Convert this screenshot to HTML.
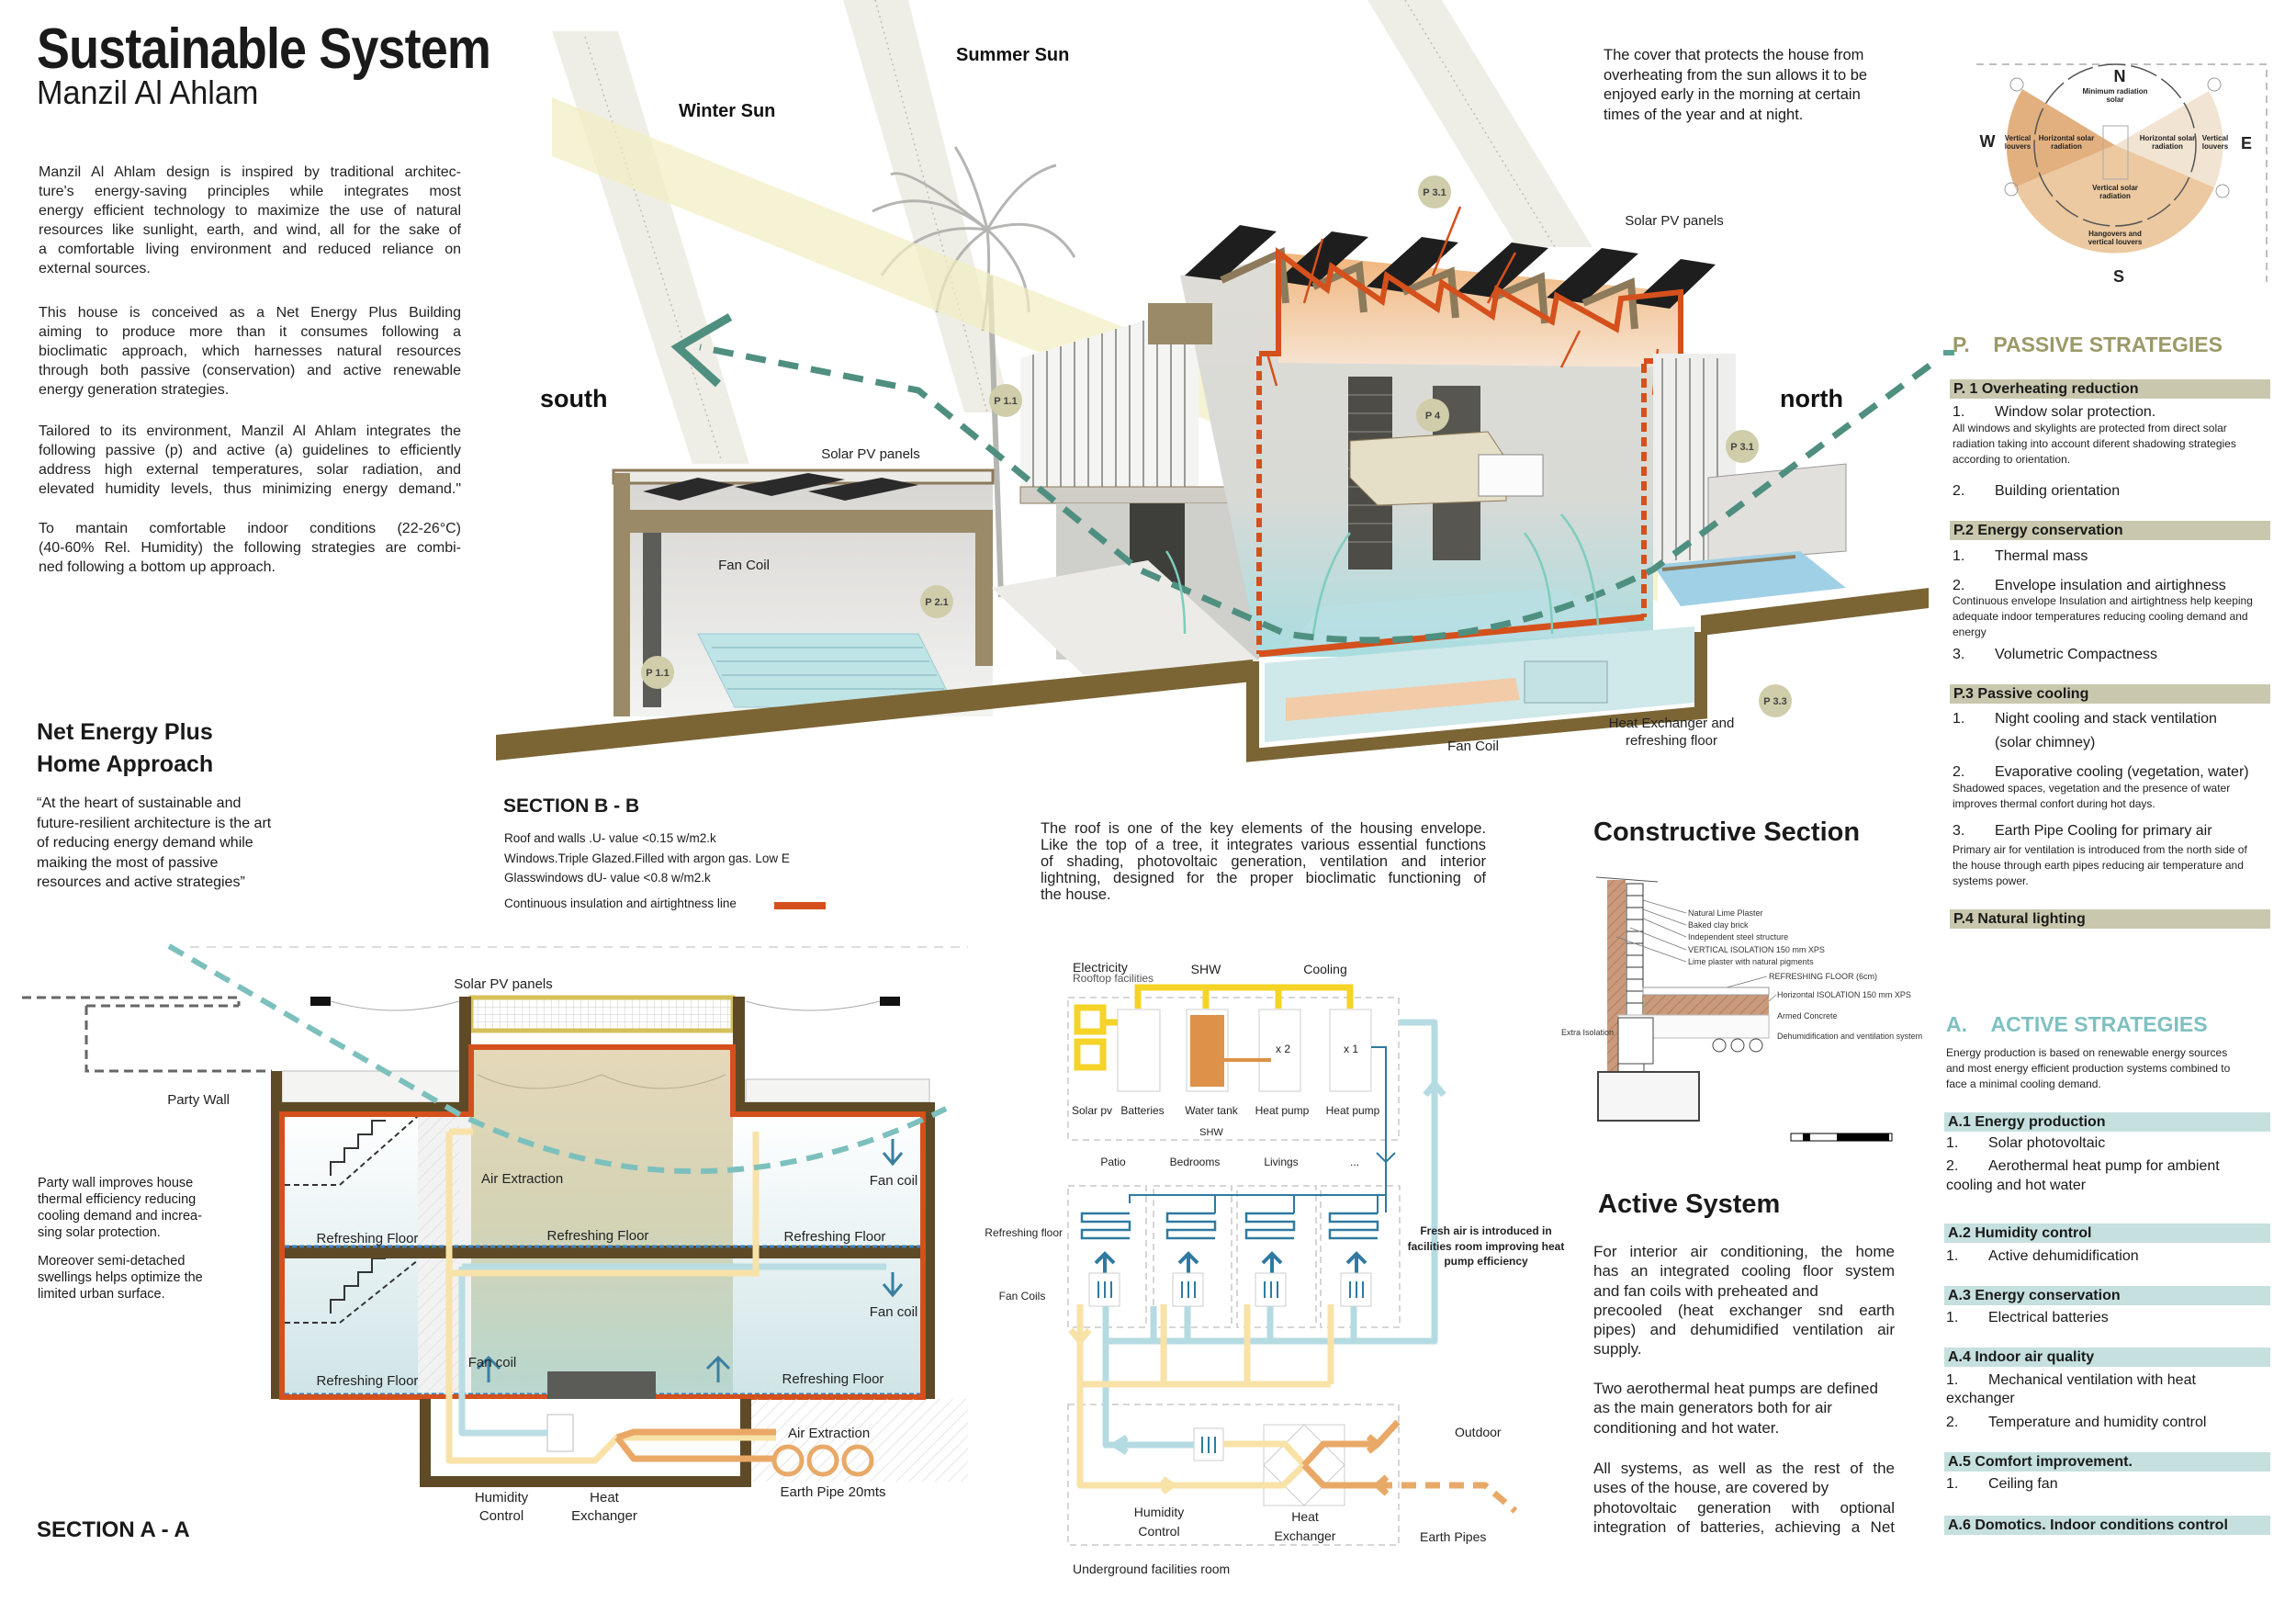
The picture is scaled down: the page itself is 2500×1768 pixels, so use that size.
<!DOCTYPE html>
<html><head><meta charset="utf-8">
<style>
*{margin:0;padding:0;box-sizing:border-box}
body{width:2500px;height:1768px;background:#fff;position:relative;overflow:hidden;font-family:"Liberation Sans",sans-serif;color:#1a1a1a}
.a{position:absolute;white-space:nowrap}
.p{position:absolute;font-size:16px;line-height:21px;color:#222}
.p div{white-space:nowrap;text-align:justify;text-align-last:justify}
.p div.l{text-align:left;text-align-last:left}
.n{font-family:"Liberation Sans Narrow","Liberation Sans",sans-serif}
.bar{position:absolute;left:2123px;width:349px;height:21px;font-weight:bold;font-size:16px;line-height:21px;padding-left:4px}
.pb{background:#c9c8ae}
.ab{background:#c5e0df}
.it{position:absolute;left:2126px;font-size:16px;line-height:20px;white-space:nowrap}
.it b{font-weight:normal;display:inline-block;width:46px}
.sm{position:absolute;left:2126px;font-size:12px;line-height:17px;width:330px;color:#222}
</style></head><body>

<svg class="a" style="left:0;top:0" width="2500" height="1768" viewBox="0 0 2500 1768" xmlns="http://www.w3.org/2000/svg">
<defs>
<linearGradient id="roofg" x1="0" y1="0" x2="0" y2="1"><stop offset="0" stop-color="#f0b57c"/><stop offset="1" stop-color="#f7e4d2"/></linearGradient>
<linearGradient id="inner" x1="0" y1="0" x2="0" y2="1"><stop offset="0" stop-color="#dedcd7"/><stop offset=".6" stop-color="#d8dad6"/><stop offset="1" stop-color="#a9dde0"/></linearGradient>
<linearGradient id="room" x1="0" y1="0" x2="0" y2="1"><stop offset="0" stop-color="#ffffff"/><stop offset="1" stop-color="#cfe4e7"/></linearGradient>
<linearGradient id="atr" x1="0" y1="0" x2="0" y2="1"><stop offset="0" stop-color="#e5d8b9"/><stop offset=".5" stop-color="#d4d3b5"/><stop offset="1" stop-color="#b7d7cf"/></linearGradient>
<linearGradient id="pav" x1="0" y1="0" x2="0" y2="1"><stop offset="0" stop-color="#d6d5d2"/><stop offset="1" stop-color="#f3f3f1"/></linearGradient>
<pattern id="hatch" width="10" height="10" patternUnits="userSpaceOnUse" patternTransform="rotate(45)"><line x1="0" y1="0" x2="0" y2="10" stroke="#ddd" stroke-width="1.5"/></pattern>
<pattern id="grid" width="8" height="8" patternUnits="userSpaceOnUse"><path d="M8 0H0V8" fill="none" stroke="#ccc" stroke-width="1"/></pattern>
<pattern id="brick" width="8" height="8" patternUnits="userSpaceOnUse" patternTransform="rotate(45)"><rect width="8" height="8" fill="#c99a7c"/><line x1="0" y1="0" x2="0" y2="8" stroke="#b57d5d" stroke-width="2"/></pattern>
</defs>

<!-- 3D SECTION B-B -->
<polygon points="601,34 673,34 816,505 754,505" fill="#efeee6"/>
<polygon points="918,0 989,0 1101,449 1050,449" fill="#efeee6"/>
<polygon points="1489,0 1570,0 1734,269 1652,269" fill="#efeee6"/>
<line x1="637" y1="40" x2="785" y2="500" stroke="#bbb" stroke-width="1.5" stroke-dasharray="2 4"/>
<line x1="953" y1="0" x2="1075" y2="449" stroke="#bbb" stroke-width="1.5" stroke-dasharray="2 4"/>
<line x1="1530" y1="0" x2="1693" y2="269" stroke="#bbb" stroke-width="1.5" stroke-dasharray="2 4"/>
<g stroke="#a9a9a6" fill="none" stroke-width="3" opacity=".85">
<path d="M1078,300 L1090,650" stroke-width="6"/>
<path d="M1075,250 Q1010,200 950,230"/><path d="M1075,250 Q1000,240 960,300"/><path d="M1075,250 Q1030,280 1020,340"/>
<path d="M1075,250 Q1060,190 1040,160"/><path d="M1075,250 Q1110,190 1150,180"/><path d="M1075,250 Q1140,230 1170,280"/>
<path d="M1075,250 Q1120,290 1120,340"/><path d="M1075,250 Q1080,300 1070,360"/><path d="M1075,250 Q990,180 970,190"/>
</g>
<polygon points="601,106 1805,590 1805,655 601,170" fill="#f2eec2" opacity=".7"/>
<rect x="668" y="515" width="413" height="265" fill="url(#pav)"/>
<rect x="668" y="512" width="413" height="14" fill="#ecebe7" stroke="#8c7a5b" stroke-width="3"/>
<polygon points="700,535 760,520 800,528 740,545" fill="#2a2a2a"/>
<polygon points="800,530 880,515 920,522 840,540" fill="#2a2a2a"/>
<polygon points="880,535 960,520 1000,528 920,545" fill="#2a2a2a"/>
<rect x="668" y="555" width="413" height="25" fill="#9b8a68"/>
<rect x="668" y="515" width="18" height="265" fill="#9b8a68"/>
<rect x="1062" y="555" width="19" height="170" fill="#9b8a68"/>
<polygon points="760,690 1000,690 1040,770 800,770" fill="#bfe4e6" stroke="#9fcad0"/>
<g stroke="#9fcad0" stroke-width="2"><line x1="775" y1="705" x2="1005" y2="705"/><line x1="780" y1="720" x2="1012" y2="720"/><line x1="786" y1="735" x2="1020" y2="735"/><line x1="792" y1="750" x2="1028" y2="750"/></g>
<rect x="700" y="580" width="20" height="190" fill="#5c5c58"/>
<polygon points="1111,390 1305,331 1305,544 1111,544" fill="#f4f4f2"/>
<g stroke="#9a9a96" stroke-width="2">
<line x1="1125" y1="386" x2="1125" y2="540"/><line x1="1140" y1="382" x2="1140" y2="540"/><line x1="1155" y1="377" x2="1155" y2="540"/><line x1="1170" y1="372" x2="1170" y2="540"/><line x1="1185" y1="368" x2="1185" y2="540"/><line x1="1200" y1="363" x2="1200" y2="540"/><line x1="1215" y1="358" x2="1215" y2="540"/><line x1="1230" y1="354" x2="1230" y2="540"/><line x1="1245" y1="349" x2="1245" y2="540"/><line x1="1260" y1="345" x2="1260" y2="540"/><line x1="1275" y1="340" x2="1275" y2="540"/><line x1="1290" y1="336" x2="1290" y2="540"/></g>
<rect x="1111" y="530" width="260" height="18" fill="#cfcdc6" stroke="#8c7a5b"/>
<rect x="1150" y="548" width="221" height="170" fill="#cfcfcb"/>
<rect x="1230" y="548" width="60" height="170" fill="#3e3e3a"/>
<polygon points="1080,640 1250,610 1371,720 1180,735" fill="#ecebe7"/>
<polygon points="1285,300 1371,285 1800,320 1800,715 1371,715" fill="url(#inner)"/>
<polygon points="1392,275 1830,318 1830,400 1392,395" fill="url(#roofg)"/>
<rect x="1468" y="410" width="48" height="210" fill="#4d4c46"/>
<rect x="1560" y="420" width="52" height="190" fill="#575650"/>
<g stroke="#7b7a72" stroke-width="1.5"><line x1="1468" y1="430" x2="1516" y2="430"/><line x1="1468" y1="450" x2="1516" y2="450"/><line x1="1468" y1="470" x2="1516" y2="470"/><line x1="1468" y1="490" x2="1516" y2="490"/><line x1="1468" y1="510" x2="1516" y2="510"/><line x1="1468" y1="530" x2="1516" y2="530"/><line x1="1468" y1="550" x2="1516" y2="550"/><line x1="1468" y1="570" x2="1516" y2="570"/><line x1="1468" y1="590" x2="1516" y2="590"/></g>
<polygon points="1470,480 1620,470 1640,500 1640,545 1500,550 1470,520" fill="#e4dfc6" stroke="#8c7a5b"/>
<rect x="1610" y="495" width="70" height="45" fill="#fbfbfb" stroke="#888"/>
<polygon points="1440,660 1700,640 1780,690 1400,705" fill="#b9e0e3" opacity=".8"/>
<rect x="1250" y="330" width="70" height="45" fill="#9a8a68"/>
<g fill="#1e1e1e">
<polygon points="1290,300 1350,245 1390,252 1330,305"/>
<polygon points="1390,306 1450,252 1490,258 1430,312"/>
<polygon points="1488,312 1548,258 1588,264 1528,318"/>
<polygon points="1586,318 1646,264 1686,270 1626,324"/>
<polygon points="1684,324 1744,270 1784,276 1724,330"/>
<polygon points="1778,330 1830,282 1868,288 1818,336"/>
</g>
<g stroke="#8c7a5b" stroke-width="8" fill="none">
<path d="M1330,305 L1395,275 L1400,330"/><path d="M1430,312 L1480,290 L1485,340"/><path d="M1528,318 L1580,296 L1585,346"/><path d="M1626,324 L1678,302 L1682,352"/><path d="M1724,330 L1776,308 L1780,358"/>
</g>
<g stroke="#d4501c" fill="none">
<path d="M1371,385 L1392,385 L1392,275 L1445,315 L1450,290 L1505,328 L1510,300 L1565,336 L1570,308 L1625,344 L1630,315 L1690,350 L1695,322 L1760,358 L1765,325 L1830,318 L1830,393 L1790,393" stroke-width="6"/>
<line x1="1371" y1="388" x2="1371" y2="712" stroke-width="6" stroke-dasharray="10 6"/>
<line x1="1790" y1="396" x2="1790" y2="672" stroke-width="6" stroke-dasharray="10 6"/>
<line x1="1371" y1="712" x2="1790" y2="672" stroke-width="7"/>
<path d="M1420,330 L1440,260" stroke-width="2.5"/><path d="M1560,300 L1590,225" stroke-width="2.5"/><path d="M1620,330 L1650,275" stroke-width="2.5"/>
<path d="M1700,400 L1720,360" stroke-width="2.5"/><path d="M1800,430 L1805,380" stroke-width="2.5"/><path d="M1390,420 L1380,385" stroke-width="2.5"/>
</g>
<rect x="1800" y="385" width="90" height="230" fill="#eeeeec"/>
<g stroke="#9a9a96" stroke-width="2"><line x1="1810" y1="390" x2="1810" y2="610"/><line x1="1825" y1="390" x2="1825" y2="610"/><line x1="1840" y1="390" x2="1840" y2="610"/><line x1="1855" y1="390" x2="1855" y2="610"/><line x1="1870" y1="390" x2="1870" y2="610"/></g>
<polygon points="1860,520 2010,505 2010,600 1860,612" fill="#e1e0dd" stroke="#999"/>
<polygon points="1800,615 1960,600 2010,640 1830,660" fill="#9fd0e6"/>
<line x1="1810" y1="620" x2="1955" y2="606" stroke="#8c7a5b" stroke-width="4"/>
<polygon points="540,800 1364,718 1364,742 540,828" fill="#7b6535"/>
<polygon points="1852,670 2100,640 2100,662 1852,692" fill="#7b6535"/>
<polygon points="1377,722 1845,682 1845,765 1377,808" fill="#cfe8ea"/>
<polygon points="1400,760 1650,738 1655,762 1400,785" fill="#f2cba8"/>
<rect x="1660" y="720" width="90" height="45" fill="#c4e1e4" stroke="#8aa"/>
<path d="M1364,720 L1364,822 L1852,776 L1852,688" fill="none" stroke="#7b6535" stroke-width="14"/>
<path d="M2101,398 L1800,620 Q1600,720 1400,690 L1240,620 L1000,425 L762,378" fill="none" stroke="#4f8f80" stroke-width="7" stroke-dasharray="22 14"/>
<polyline points="795,345 738,378 782,418" fill="none" stroke="#4f8f80" stroke-width="9"/>
<g stroke="#7fcdbd" stroke-width="2.5" fill="none"><path d="M1740,680 Q1735,600 1700,560"/><path d="M1690,690 Q1690,620 1660,580"/><path d="M1430,690 Q1440,620 1470,580"/><path d="M1290,690 Q1290,630 1270,600"/></g>
<g fill="#cfcdaa"><circle cx="1562" cy="209" r="18"/><circle cx="1095" cy="436" r="18"/><circle cx="1560" cy="452" r="18"/><circle cx="1897" cy="486" r="18"/><circle cx="1020" cy="655" r="18"/><circle cx="716" cy="732" r="18"/><circle cx="1933" cy="763" r="18"/></g>
<g font-family="Liberation Sans Narrow,Liberation Sans,sans-serif" font-size="11" font-weight="bold" fill="#444" text-anchor="middle">
<text x="1562" y="213">P 3.1</text><text x="1095" y="440">P 1.1</text><text x="1560" y="456">P 4</text><text x="1897" y="490">P 3.1</text><text x="1020" y="659">P 2.1</text><text x="716" y="736">P 1.1</text><text x="1933" y="767">P 3.3</text>
</g>
<g font-family="Liberation Sans Narrow,Liberation Sans,sans-serif" font-size="15" fill="#222">
<text x="1823" y="245" text-anchor="middle">Solar PV panels</text>
<text x="948" y="499" text-anchor="middle">Solar PV panels</text>
<text x="810" y="620" text-anchor="middle">Fan Coil</text>
<text x="1604" y="817" text-anchor="middle">Fan Coil</text>
<text x="1820" y="792" text-anchor="middle">Heat Exchanger and</text>
<text x="1820" y="811" text-anchor="middle">refreshing floor</text>
</g>
<g font-family="Liberation Sans Narrow,Liberation Sans,sans-serif" font-weight="bold" fill="#111">
<text x="1041" y="66" font-size="20">Summer Sun</text>
<text x="739" y="127" font-size="20">Winter Sun</text>
<text x="588" y="443" font-size="27">south</text>
<text x="1938" y="443" font-size="27">north</text>
</g>

<!-- COMPASS -->
<path d="M2152,70 L2468,70 L2468,307" fill="none" stroke="#aaa" stroke-width="1.5" stroke-dasharray="8 6"/>
<path d="M2303,158 L2202,97 A118,118 0 0 0 2194,204 Z" fill="#e2b07f"/>
<path d="M2303,158 L2194,204 A118,118 0 0 0 2411,204 Z" fill="#ecc9a0"/>
<path d="M2303,158 L2411,204 A118,118 0 0 0 2405,99 Z" fill="#f2e4d2"/>
<circle cx="2303" cy="158" r="88" fill="none" stroke="#555" stroke-width="1.5" stroke-dasharray="30 6"/>
<g fill="none" stroke="#999"><circle cx="2196" cy="92" r="7"/><circle cx="2411" cy="92" r="7"/><circle cx="2190" cy="206" r="7"/><circle cx="2420" cy="208" r="7"/></g>
<rect x="2290" y="137" width="27" height="58" fill="none" stroke="#aaa"/>
<g font-family="Liberation Sans,sans-serif" fill="#222" text-anchor="middle" font-weight="bold">
<text x="2308" y="89" font-size="18">N</text><text x="2307" y="307" font-size="18">S</text><text x="2164" y="160" font-size="18">W</text><text x="2446" y="162" font-size="18">E</text>
<g font-size="8"><text x="2303" y="102">Minimum radiation</text><text x="2303" y="111">solar</text>
<text x="2197" y="153">Vertical</text><text x="2197" y="162">louvers</text>
<text x="2250" y="153">Horizontal solar</text><text x="2250" y="162">radiation</text>
<text x="2360" y="153">Horizontal solar</text><text x="2360" y="162">radiation</text>
<text x="2412" y="153">Vertical</text><text x="2412" y="162">louvers</text>
<text x="2303" y="207">Vertical solar</text><text x="2303" y="216">radiation</text>
<text x="2303" y="257">Hangovers and</text><text x="2303" y="266">vertical louvers</text></g>
</g>
<rect x="2116" y="381" width="12" height="6" fill="#5aa095"/>

<!-- SECTION A-A -->
<line x1="207" y1="1031" x2="1054" y2="1031" stroke="#ddd" stroke-width="2" stroke-dasharray="10 8"/>
<path d="M24,1086 L260,1086 L260,1095 M94,1095 L260,1095 M94,1095 L94,1166 L296,1166" fill="none" stroke="#666" stroke-width="3" stroke-dasharray="10 6"/>
<text x="250" y="1202" font-family="Liberation Sans Narrow,Liberation Sans,sans-serif" font-size="15" text-anchor="end" fill="#222">Party Wall</text>
<rect x="307" y="1166" width="206" height="34" fill="#f4f4f2" stroke="#bbb"/>
<rect x="812" y="1175" width="200" height="25" fill="#f4f4f2" stroke="#bbb"/>
<rect x="307" y="1213" width="698" height="308" fill="url(#room)"/>
<rect x="513" y="1140" width="285" height="380" fill="url(#atr)"/>
<rect x="455" y="1216" width="58" height="300" fill="#f2f2f2"/>
<rect x="455" y="1216" width="45" height="300" fill="url(#hatch)"/>
<path d="M310,1290 L370,1290 L455,1215" fill="none" stroke="#333" stroke-width="2" stroke-dasharray="6 4"/>
<path d="M310,1440 L370,1440 L455,1372" fill="none" stroke="#333" stroke-width="2" stroke-dasharray="6 4"/>
<path d="M360,1280 L360,1265 L375,1265 L375,1250 L390,1250 L390,1235 L405,1235 L405,1220 L420,1220" fill="none" stroke="#333" stroke-width="2"/>
<path d="M360,1430 L360,1415 L375,1415 L375,1400 L390,1400 L390,1385 L405,1385 L405,1370 L420,1370" fill="none" stroke="#333" stroke-width="2"/>
<rect x="513" y="1086" width="285" height="36" fill="url(#grid)" stroke="#d6c15a" stroke-width="5"/>
<rect x="500" y="1085" width="13" height="128" fill="#5e4a26"/>
<rect x="798" y="1085" width="13" height="128" fill="#5e4a26"/>
<rect x="338" y="1085" width="22" height="10" fill="#111"/><rect x="958" y="1085" width="22" height="10" fill="#111"/>
<path d="M360,1090 Q430,1110 500,1090 M812,1090 Q880,1110 958,1090" fill="none" stroke="#aaa"/>
<rect x="307" y="1200" width="206" height="13" fill="#5e4a26"/>
<rect x="798" y="1200" width="220" height="13" fill="#5e4a26"/>
<rect x="295" y="1166" width="12" height="357" fill="#5e4a26"/>
<rect x="1007" y="1200" width="11" height="323" fill="#5e4a26"/>
<rect x="307" y="1356" width="700" height="14" fill="#5e4a26"/>
<line x1="310" y1="1357" x2="1005" y2="1357" stroke="#3a7fc0" stroke-width="3" stroke-dasharray="5 3"/>
<line x1="310" y1="1518" x2="1005" y2="1518" stroke="#3a7fc0" stroke-width="3" stroke-dasharray="5 3"/>
<path d="M307,1521 L307,1213 L513,1213 L513,1140 L798,1140 L798,1213 L1005,1213 L1005,1521 Z" fill="none" stroke="#d4501c" stroke-width="6"/>
<path d="M520,1170 Q580,1200 655,1170 Q720,1200 790,1170" fill="none" stroke="#b9ad92"/>
<rect x="596" y="1493" width="118" height="30" fill="#5b5b58"/>
<rect x="812" y="1523" width="242" height="90" fill="url(#hatch)"/>
<rect x="463" y="1523" width="343" height="84" fill="#fff"/>
<path d="M463,1523 L463,1613 L812,1613 L812,1523" fill="none" stroke="#5e4a26" stroke-width="12"/>
<rect x="596" y="1540" width="28" height="40" fill="#fff" stroke="#bbb"/>
<g fill="none" stroke-linejoin="round">
<path d="M503,1379 L965,1379 M503,1379 L503,1560 L596,1560" stroke="#b9dde3" stroke-width="7"/>
<path d="M489,1232 L489,1590 L648,1590 L672,1565 L845,1565 M489,1386 L827,1386 M823,1232 L823,1390 M489,1232 L515,1232" stroke="#f8e2a8" stroke-width="7"/>
<path d="M672,1565 L690,1559 L845,1559 M672,1565 L690,1588 L845,1588" stroke="#eaa867" stroke-width="7"/>
</g>
<g fill="none" stroke="#e8a968" stroke-width="5"><circle cx="858" cy="1590" r="15"/><circle cx="896" cy="1590" r="15"/><circle cx="934" cy="1590" r="15"/></g>
<g stroke="#3a7fa0" stroke-width="3" fill="none"><path d="M962,1255 L972,1267 L982,1255 M972,1240 L972,1266"/><path d="M962,1398 L972,1410 L982,1398 M972,1385 L972,1410"/><path d="M520,1490 L532,1478 L544,1490 M532,1478 L532,1505"/><path d="M770,1490 L782,1478 L794,1490 M782,1478 L782,1505"/></g>
<path d="M184,1030 L500,1213 Q760,1340 1030,1207" fill="none" stroke="#7cc0bd" stroke-width="6" stroke-dasharray="18 11"/>
<g font-family="Liberation Sans Narrow,Liberation Sans,sans-serif" font-size="15" fill="#222">
<text x="548" y="1076" text-anchor="middle">Solar PV panels</text>
<text x="524" y="1288">Air Extraction</text>
<text x="400" y="1353" text-anchor="middle">Refreshing Floor</text>
<text x="651" y="1350" text-anchor="middle">Refreshing Floor</text>
<text x="909" y="1351" text-anchor="middle">Refreshing Floor</text>
<text x="400" y="1508" text-anchor="middle">Refreshing Floor</text>
<text x="907" y="1506" text-anchor="middle">Refreshing Floor</text>
<text x="973" y="1290" text-anchor="middle">Fan coil</text>
<text x="973" y="1433" text-anchor="middle">Fan coil</text>
<text x="536" y="1488" text-anchor="middle">Fan coil</text>
<text x="858" y="1565">Air Extraction</text>
<text x="907" y="1629" text-anchor="middle">Earth Pipe 20mts</text>
<text x="546" y="1635" text-anchor="middle">Humidity</text><text x="546" y="1655" text-anchor="middle">Control</text>
<text x="658" y="1635" text-anchor="middle">Heat</text><text x="658" y="1655" text-anchor="middle">Exchanger</text>
</g>

<!-- SYSTEM DIAGRAM -->
<g fill="none" stroke="#c8c8c8" stroke-width="1.5" stroke-dasharray="7 5">
<rect x="1163" y="1086" width="360" height="155"/>
<rect x="1163" y="1291" width="85" height="154"/><rect x="1256" y="1291" width="85" height="154"/><rect x="1347" y="1291" width="86" height="154"/><rect x="1438" y="1291" width="86" height="154"/>
<rect x="1163" y="1529" width="360" height="153"/>
</g>
<path d="M1239,1098 L1239,1075 L1470,1075 L1470,1098 M1313,1075 L1313,1098 M1392,1075 L1392,1098" fill="none" stroke="#f5d327" stroke-width="7"/>
<rect x="1173" y="1097" width="28" height="26" fill="none" stroke="#f5d327" stroke-width="7"/>
<rect x="1173" y="1134" width="28" height="28" fill="none" stroke="#f5d327" stroke-width="7"/>
<line x1="1201" y1="1113" x2="1217" y2="1113" stroke="#f5d327" stroke-width="7"/>
<g fill="#fff" stroke="#ccc"><rect x="1217" y="1099" width="46" height="89"/><rect x="1292" y="1099" width="45" height="89"/><rect x="1371" y="1099" width="45" height="89"/><rect x="1448" y="1099" width="45" height="89"/></g>
<rect x="1296" y="1105" width="37" height="78" fill="#dd9149"/>
<line x1="1333" y1="1154" x2="1384" y2="1154" stroke="#dd9149" stroke-width="4"/>
<path d="M1493,1140 L1509,1140 L1509,1320 M1499,1255 L1509,1265 L1519,1255 M1230,1310 L1230,1301 L1509,1301 M1323,1301 L1323,1321 M1409,1301 L1409,1321 M1500,1301 L1500,1321" fill="none" stroke="#2f7aa0" stroke-width="2"/>
<g fill="none" stroke="#2f7aa0" stroke-width="2.5">
<path d="M1230,1321 L1178,1321 L1178,1330 L1230,1330 L1230,1339 L1178,1339 L1178,1348 L1230,1348"/>
<path d="M1323,1321 L1271,1321 L1271,1330 L1323,1330 L1323,1339 L1271,1339 L1271,1348 L1323,1348"/>
<path d="M1409,1321 L1357,1321 L1357,1330 L1409,1330 L1409,1339 L1357,1339 L1357,1348 L1409,1348"/>
<path d="M1500,1321 L1448,1321 L1448,1330 L1500,1330 L1500,1339 L1448,1339 L1448,1348 L1500,1348"/>
</g>
<g fill="none" stroke="#2f7aa0" stroke-width="4">
<path d="M1193,1375 L1203,1365 L1213,1375 M1203,1366 L1203,1386"/><path d="M1284,1375 L1294,1365 L1304,1375 M1294,1366 L1294,1386"/><path d="M1375,1375 L1385,1365 L1395,1375 M1385,1366 L1385,1386"/><path d="M1467,1375 L1477,1365 L1487,1375 M1477,1366 L1477,1386"/>
</g>
<g fill="#fff" stroke="#ccc"><rect x="1186" y="1386" width="33" height="36"/><rect x="1277" y="1386" width="33" height="36"/><rect x="1367" y="1386" width="33" height="36"/><rect x="1460" y="1386" width="33" height="36"/><rect x="1300" y="1555" width="32" height="35"/></g>
<g stroke="#2f7aa0" stroke-width="2"><path d="M1196,1395 v18 M1203,1395 v18 M1210,1395 v18 M1287,1395 v18 M1294,1395 v18 M1301,1395 v18 M1377,1395 v18 M1384,1395 v18 M1391,1395 v18 M1470,1395 v18 M1477,1395 v18 M1484,1395 v18 M1309,1564 v18 M1316,1564 v18 M1323,1564 v18"/></g>
<path d="M1376,1551 L1464,1551 L1464,1639 L1376,1639 Z M1420,1551 L1464,1595 L1420,1639 L1376,1595 Z" fill="#fff" stroke="#ccc"/>
<g fill="none" stroke-linejoin="round">
<path d="M1204,1422 L1204,1573 L1300,1573 M1227,1565 L1214,1573 L1227,1581 M1256,1422 L1256,1460 M1293,1422 L1293,1460 M1383,1422 L1383,1460 M1474,1422 L1474,1460 M1204,1460 L1562,1460 L1562,1113 L1524,1113 M1552,1192 L1562,1180 L1572,1192" stroke="#b5dbe2" stroke-width="7"/>
<path d="M1176,1420 L1176,1617 L1397,1617 L1420,1595 M1332,1572 L1399,1572 L1440,1617 M1266,1610 L1276,1617 L1266,1624 M1176,1507 L1449,1507 M1267,1420 L1267,1507 M1358,1420 L1358,1507 M1449,1420 L1449,1507 M1166,1448 L1176,1460 L1186,1448" stroke="#f8e2a8" stroke-width="7"/>
<path d="M1420,1595 L1441,1572 L1500,1572 L1522,1548 M1490,1564 L1500,1572 L1490,1580" stroke="#e8a968" stroke-width="7"/>
<path d="M1420,1595 L1441,1617 L1500,1617" stroke="#e8a968" stroke-width="7"/>
<path d="M1500,1617 L1617,1617 L1650,1645" stroke="#e8a968" stroke-width="7" stroke-dasharray="16 10"/>
<path d="M1510,1608 L1500,1617 L1510,1626" stroke="#e8a968" stroke-width="7" fill="none"/>
</g>
<g font-family="Liberation Sans,sans-serif" font-size="13" fill="#222">
<text x="1168" y="1058" font-size="14">Electricity</text>
<text x="1168" y="1069" font-size="12" fill="#555">Rooftop facilities</text>
<text x="1313" y="1060" text-anchor="middle" font-size="14">SHW</text>
<text x="1443" y="1060" text-anchor="middle" font-size="14">Cooling</text>
<text x="1189" y="1213" text-anchor="middle" font-size="12">Solar pv</text>
<text x="1244" y="1213" text-anchor="middle" font-size="12">Batteries</text>
<text x="1319" y="1213" text-anchor="middle" font-size="12">Water tank</text>
<text x="1396" y="1213" text-anchor="middle" font-size="12">Heat pump</text>
<text x="1473" y="1213" text-anchor="middle" font-size="12">Heat pump</text>
<text x="1319" y="1236" text-anchor="middle" font-size="11">SHW</text>
<text x="1397" y="1146" text-anchor="middle" font-size="12">x 2</text>
<text x="1471" y="1146" text-anchor="middle" font-size="12">x 1</text>
<text x="1212" y="1269" text-anchor="middle" font-size="12">Patio</text>
<text x="1301" y="1269" text-anchor="middle" font-size="12">Bedrooms</text>
<text x="1395" y="1269" text-anchor="middle" font-size="12">Livings</text>
<text x="1475" y="1269" text-anchor="middle" font-size="12">...</text>
<text x="1157" y="1346" text-anchor="end" font-size="12">Refreshing floor</text>
<text x="1113" y="1415" text-anchor="middle" font-size="12">Fan Coils</text>
<text x="1584" y="1564" font-size="14">Outdoor</text>
<text x="1546" y="1678" font-size="14">Earth Pipes</text>
<text x="1262" y="1651" text-anchor="middle" font-size="14">Humidity</text><text x="1262" y="1672" text-anchor="middle" font-size="14">Control</text>
<text x="1421" y="1656" text-anchor="middle" font-size="14">Heat</text><text x="1421" y="1677" text-anchor="middle" font-size="14">Exchanger</text>
<text x="1168" y="1713" font-size="14">Underground facilities room</text>
<g font-weight="bold" font-size="12" text-anchor="middle"><text x="1618" y="1344">Fresh air is introduced in</text><text x="1618" y="1361">facilities room improving heat</text><text x="1618" y="1377">pump efficiency</text></g>
</g>

<!-- CONSTRUCTIVE SECTION -->
<line x1="1738" y1="955" x2="1805" y2="960" stroke="#555"/>
<rect x="1750" y="958" width="20" height="210" fill="url(#brick)"/>
<rect x="1771" y="962" width="18" height="185" fill="#fff" stroke="#333"/>
<g stroke="#333"><path d="M1771,975h18M1771,988h18M1771,1001h18M1771,1014h18M1771,1027h18M1771,1040h18M1771,1053h18M1771,1066h18M1771,1079h18M1771,1092h18M1771,1105h18M1771,1118h18M1771,1131h18"/></g>
<rect x="1789" y="1083" width="137" height="22" fill="url(#brick)"/>
<rect x="1789" y="1075" width="137" height="8" fill="#fff" stroke="#999"/>
<rect x="1762" y="1105" width="164" height="25" fill="#fafafa" stroke="#bbb"/>
<rect x="1762" y="1108" width="38" height="50" fill="#fff" stroke="#444"/>
<rect x="1762" y="1158" width="28" height="12" fill="#fff" stroke="#444"/>
<g fill="none" stroke="#444"><circle cx="1872" cy="1138" r="7"/><circle cx="1892" cy="1138" r="7"/><circle cx="1912" cy="1138" r="7"/></g>
<rect x="1740" y="1167" width="110" height="53" fill="#f6f6f6" stroke="#444" stroke-width="2"/>
<rect x="1950" y="1234" width="110" height="8" fill="#fff" stroke="#000"/>
<rect x="1963" y="1234" width="8" height="8" fill="#000"/><rect x="2000" y="1234" width="57" height="8" fill="#000"/>
<g font-family="Liberation Sans Narrow,Liberation Sans,sans-serif" font-size="9" fill="#333">
<text x="1838" y="997">Natural Lime Plaster</text><text x="1838" y="1010">Baked clay brick</text><text x="1838" y="1023">Independent steel structure</text><text x="1838" y="1037">VERTICAL ISOLATION 150 mm XPS</text><text x="1838" y="1050">Lime plaster with natural pigments</text>
<text x="1926" y="1066">REFRESHING FLOOR (6cm)</text><text x="1935" y="1086">Horizontal ISOLATION 150 mm XPS</text><text x="1935" y="1109">Armed Concrete</text><text x="1935" y="1131">Dehumidification and ventilation system</text>
<text x="1700" y="1127">Extra Isolation</text>
</g>
<g stroke="#777" stroke-width=".8"><path d="M1789,980 L1836,994 M1789,990 L1836,1007 M1789,1000 L1836,1020 M1775,1010 L1836,1034 M1760,1020 L1836,1047 M1880,1075 L1924,1063 M1926,1090 L1934,1083"/></g>
</svg>

<!-- HTML TEXT -->
<div class="a" style="left:40px;top:18px;font-size:62px;font-weight:bold;letter-spacing:-1px;transform:scaleX(.87);transform-origin:left top">Sustainable System</div>
<div class="a" style="left:40px;top:80px;font-size:36px;transform:scaleX(.95);transform-origin:left top">Manzil Al Ahlam</div>

<div class="p" style="left:42px;top:177px;width:460px;font-size:16px">
<div>Manzil Al Ahlam design is inspired by traditional architec-</div>
<div>ture's energy-saving principles while integrates most</div>
<div>energy efficient technology to maximize the use of natural</div>
<div>resources like sunlight, earth, and wind, all for the sake of</div>
<div>a comfortable living environment and reduced reliance on</div>
<div class="l">external sources.</div></div>
<div class="p" style="left:42px;top:330px;width:460px;font-size:16px">
<div>This house is conceived as a Net Energy Plus Building</div>
<div>aiming to produce more than it consumes following a</div>
<div>bioclimatic approach, which harnesses natural resources</div>
<div>through both passive (conservation) and active renewable</div>
<div class="l">energy generation strategies.</div></div>
<div class="p" style="left:42px;top:459px;width:460px;font-size:16px">
<div>Tailored to its environment, Manzil Al Ahlam integrates the</div>
<div>following passive (p) and active (a) guidelines to efficiently</div>
<div>address high external temperatures, solar radiation, and</div>
<div>elevated humidity levels, thus minimizing energy demand."</div></div>
<div class="p" style="left:42px;top:565px;width:460px;font-size:16px">
<div>To mantain comfortable indoor conditions (22-26°C)</div>
<div>(40-60% Rel. Humidity) the following strategies are combi-</div>
<div class="l">ned following a bottom up approach.</div></div>

<div class="a" style="left:40px;top:780px;font-size:25px;font-weight:bold;line-height:35px">Net Energy Plus<br>Home Approach</div>
<div class="a" style="left:40px;top:864px;font-size:16px;line-height:21.5px">“At the heart of sustainable and<br>future-resilient architecture is the art<br>of reducing energy demand while<br>maiking the most of passive<br>resources and active strategies”</div>

<div class="a" style="left:40px;top:1652px;font-size:24px;font-weight:bold">SECTION A - A</div>
<div class="a" style="left:41px;top:1279px;font-size:14.5px;line-height:18px">Party wall improves house<br>thermal efficiency reducing<br>cooling demand and increa-<br>sing solar protection.</div>
<div class="a" style="left:41px;top:1364px;font-size:14.5px;line-height:18px">Moreover semi-detached<br>swellings helps optimize the<br>limited urban surface.</div>

<div class="a" style="left:548px;top:866px;font-size:21px;font-weight:bold">SECTION B - B</div>
<div class="a" style="left:549px;top:902px;font-size:13.5px;line-height:21.5px">Roof and walls .U- value &lt;0.15 w/m2.k<br>Windows.Triple Glazed.Filled with argon gas. Low E<br>Glasswindows dU- value &lt;0.8  w/m2.k</div>
<div class="a" style="left:549px;top:976px;font-size:13.5px">Continuous insulation and airtightness line</div>
<div class="a" style="left:843px;top:982px;width:56px;height:8px;background:#d4501c"></div>

<div class="p" style="left:1133px;top:893px;width:485px;font-size:16.4px;line-height:18px">
<div>The roof is one of the key elements of the housing envelope.</div>
<div>Like the top of a tree, it integrates various essential functions</div>
<div>of shading, photovoltaic generation, ventilation and interior</div>
<div>lightning, designed for the proper bioclimatic functioning of</div>
<div class="l">the house.</div></div>

<div class="a" style="left:1746px;top:50px;font-size:16.5px;line-height:21.5px">The cover that protects the house from<br>overheating from the sun allows it to be<br>enjoyed early in the morning at certain<br>times of the year and at night.</div>

<div class="a" style="left:1735px;top:890px;font-size:29px;font-weight:bold">Constructive Section</div>
<div class="a" style="left:1740px;top:1295px;font-size:29px;font-weight:bold">Active System</div>
<div class="p" style="left:1735px;top:1352px;width:328px;font-size:17px;line-height:21.3px">
<div>For interior air conditioning, the home</div>
<div>has an integrated cooling floor system</div>
<div class="l">and fan coils with preheated and</div>
<div>precooled (heat exchanger snd earth</div>
<div>pipes) and dehumidified ventilation air</div>
<div class="l">supply.</div></div>
<div class="p" style="left:1735px;top:1501px;width:328px;font-size:17px;line-height:21.3px">
<div class="l">Two aerothermal heat pumps are defined</div>
<div class="l">as the main generators both for air</div>
<div class="l">conditioning and hot water.</div></div>
<div class="p" style="left:1735px;top:1588px;width:328px;font-size:17px;line-height:21.3px">
<div>All systems, as well as the rest of the</div>
<div class="l">uses of the house, are covered by</div>
<div>photovoltaic generation with optional</div>
<div>integration of batteries, achieving a Net</div></div>

<!-- PASSIVE -->
<div class="a" style="left:2126px;top:362px;font-size:23px;font-weight:bold;color:#9b9a68">P.&nbsp;&nbsp;&nbsp;&nbsp;PASSIVE STRATEGIES</div>
<div class="bar pb" style="top:413px">P. 1 Overheating reduction</div>
<div class="it" style="top:439px"><b>1.</b>Window solar protection.</div>
<div class="sm" style="top:458px">All windows and skylights are protected from direct solar radiation taking into account diferent shadowing strategies according to orientation.</div>
<div class="it" style="top:525px"><b>2.</b>Building orientation</div>
<div class="bar pb" style="top:567px">P.2 Energy conservation</div>
<div class="it" style="top:596px"><b>1.</b>Thermal mass</div>
<div class="it" style="top:628px"><b>2.</b>Envelope insulation and airtighness</div>
<div class="sm" style="top:646px">Continuous envelope Insulation and airtightness help keeping adequate indoor temperatures reducing cooling demand and energy</div>
<div class="it" style="top:703px"><b>3.</b>Volumetric Compactness</div>
<div class="bar pb" style="top:745px">P.3 Passive cooling</div>
<div class="it" style="top:773px"><b>1.</b>Night cooling and stack ventilation</div>
<div class="it" style="top:799px"><b></b>(solar chimney)</div>
<div class="it" style="top:831px"><b>2.</b>Evaporative cooling (vegetation, water)</div>
<div class="sm" style="top:850px">Shadowed spaces, vegetation and the presence of water improves thermal confort during hot days.</div>
<div class="it" style="top:895px"><b>3.</b>Earth Pipe Cooling for primary air</div>
<div class="sm" style="top:917px">Primary air for ventilation is introduced from the north side of the house through earth pipes reducing air temperature and systems power.</div>
<div class="bar pb" style="top:990px">P.4 Natural lighting</div>

<!-- ACTIVE -->
<div class="a" style="left:2119px;top:1102px;font-size:23px;font-weight:bold;color:#7fc0c0">A.&nbsp;&nbsp;&nbsp;&nbsp;ACTIVE STRATEGIES</div>
<div class="sm" style="left:2119px;top:1138px;width:320px">Energy production is based on renewable energy sources and most energy efficient production systems combined to face a minimal cooling demand.</div>
<div class="bar ab" style="top:1211px;left:2117px;width:355px">A.1 Energy production</div>
<div class="it" style="left:2119px;top:1235px"><b>1.</b>Solar photovoltaic</div>
<div class="it" style="left:2119px;top:1260px"><b>2.</b>Aerothermal heat pump for ambient</div>
<div class="it" style="left:2119px;top:1281px">cooling and hot water</div>
<div class="bar ab" style="top:1332px;left:2117px;width:355px">A.2 Humidity control</div>
<div class="it" style="left:2119px;top:1358px"><b>1.</b>Active dehumidification</div>
<div class="bar ab" style="top:1400px;left:2117px;width:355px">A.3 Energy conservation</div>
<div class="it" style="left:2119px;top:1425px"><b>1.</b>Electrical batteries</div>
<div class="bar ab" style="top:1467px;left:2117px;width:355px">A.4 Indoor air quality</div>
<div class="it" style="left:2119px;top:1493px"><b>1.</b>Mechanical ventilation with heat</div>
<div class="it" style="left:2119px;top:1513px">exchanger</div>
<div class="it" style="left:2119px;top:1539px"><b>2.</b>Temperature and humidity control</div>
<div class="bar ab" style="top:1581px;left:2117px;width:355px">A.5 Comfort improvement.</div>
<div class="it" style="left:2119px;top:1606px"><b>1.</b>Ceiling fan</div>
<div class="bar ab" style="top:1650px;left:2117px;width:355px">A.6 Domotics. Indoor conditions control</div>

</body></html>
